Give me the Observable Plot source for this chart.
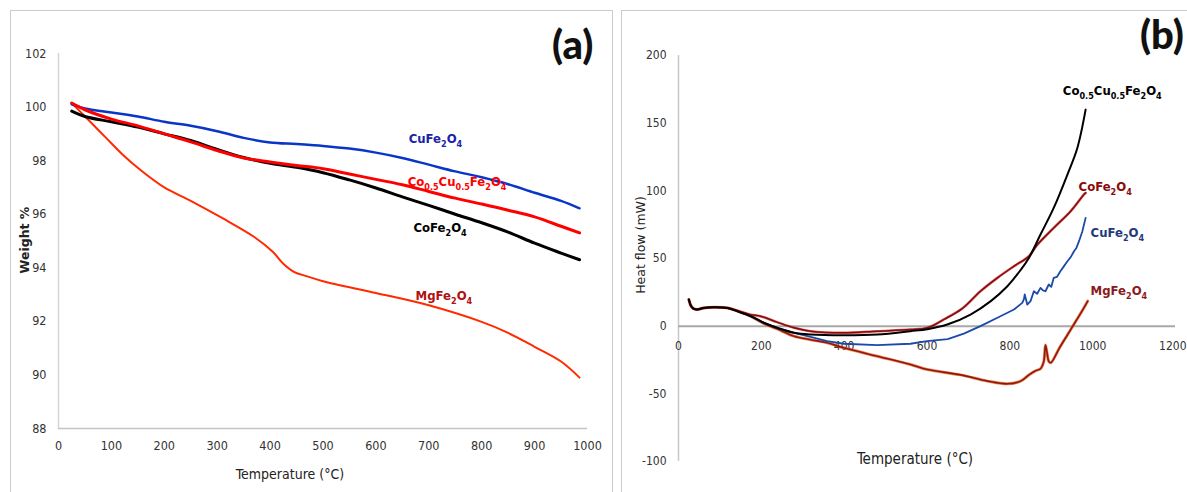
<!DOCTYPE html>
<html>
<head>
<meta charset="utf-8">
<script src="https://cdn.jsdelivr.net/npm/d3@7"></script>
<script src="https://cdn.jsdelivr.net/npm/@observablehq/plot@0.6"></script>
<style>
html, body { margin: 0; padding: 0; background: #fff; overflow: hidden; }
#root { position: relative; width: 1187px; height: 492px; overflow: hidden; background: #fff; }
.panel { position: absolute; border: 1.5px solid #cbcbcb; box-sizing: border-box; }
.chart { position: absolute; top: 0; }
.title { position: absolute; white-space: nowrap; color: #222; }
.tag { position: absolute; font-family: Lato, "Open Sans", sans-serif; font-weight: 900; font-size: 40px; color: #111; line-height: 1; }
.xt { font-family: "Liberation Sans Narrow", "DejaVu Sans Condensed", sans-serif; font-size: 14px; transform: translate(-50%, -50%); }
.yt { font-family: "DejaVu Sans", Verdana, sans-serif; font-size: 12.5px; transform: translate(-50%, -50%) rotate(-90deg); }
</style>
</head>
<body>
<div id="root">
  <div class="panel" style="left:10px; top:10px; width:603px; height:520px;"></div>
  <div class="panel" style="left:621px; top:10px; width:600px; height:520px;"></div>
  <div id="chartA" class="chart" style="left:0px;"></div>
  <div id="chartB" class="chart" style="left:612px;"></div>
  <div class="tag" style="left:552px; top:24px;">(a)</div>
  <div class="tag" style="left:1140px; top:14px;">(b)</div>
  <div class="title xt" style="left:290px; top:474px;">Temperature (°C)</div>
  <div class="title yt" style="left:24px; top:240px; font-weight:bold;">Weight %</div>
  <div class="title xt" style="left:915px; top:459px; font-size:15px;">Temperature (°C)</div>
  <div class="title yt" style="left:640px; top:245px;">Heat flow (mW)</div>
</div>
<script>
// ---------------- Panel (a): TGA, weight % vs temperature ----------------
const tempA = [25, 50, 100, 150, 200, 250, 300, 350, 400, 450, 500, 550, 600, 650, 700, 750, 800, 850, 900, 950, 985];
const weightCuFe2O4 = [100.1, 99.95, 99.8, 99.65, 99.45, 99.3, 99.1, 98.85, 98.68, 98.62, 98.55, 98.45, 98.3, 98.1, 97.85, 97.6, 97.38, 97.12, 96.8, 96.5, 96.22];
const weightCoCuFe2O4 = [100.15, 99.9, 99.55, 99.3, 99.0, 98.7, 98.38, 98.1, 97.95, 97.82, 97.7, 97.5, 97.3, 97.1, 96.85, 96.6, 96.38, 96.15, 95.9, 95.55, 95.3];
const weightCoFe2O4 = [99.85, 99.65, 99.45, 99.25, 99.0, 98.75, 98.42, 98.12, 97.9, 97.75, 97.55, 97.28, 96.98, 96.65, 96.33, 96.0, 95.68, 95.33, 94.92, 94.55, 94.3];
const tempMgA = [25, 35, 60, 90, 120, 155, 200, 250, 310, 370, 405, 425, 445, 470, 500, 600, 700, 800, 850, 900, 950, 985];
const weightMgFe2O4 = [100.15, 99.95, 99.45, 98.85, 98.25, 97.65, 97.0, 96.5, 95.85, 95.15, 94.6, 94.15, 93.85, 93.68, 93.5, 93.06, 92.6, 91.98, 91.57, 91.05, 90.5, 89.9];
const xTicksA = [0, 100, 200, 300, 400, 500, 600, 700, 800, 900, 1000];
const yTicksA = [88, 90, 92, 94, 96, 98, 100, 102];

// ---------------- Panel (b): DSC, heat flow vs temperature ----------------
const tempBCoCu = [25, 30, 36, 45, 61, 85, 118, 142, 174, 206, 238, 279, 319, 399, 480, 560, 601, 649, 705, 754, 794, 826, 846, 874, 906, 939, 963, 983];
const heatCoCuFe2O4 = [19.7, 15, 13, 12.3, 13.5, 14, 13.5, 11.1, 7.4, 2.5, -1.2, -4.9, -6.2, -6.7, -6.2, -3.7, -2.2, 1.2, 8.6, 18.5, 29.5, 41.5, 50.4, 67.7, 87.4, 112, 131.7, 160];
const tempBCo = [25, 30, 36, 45, 61, 85, 118, 142, 174, 198, 238, 279, 319, 399, 480, 560, 601, 641, 685, 729, 770, 810, 846, 866, 906, 947, 979, 983];
const heatCoFe2O4 = [19.7, 15, 13, 12.3, 13.5, 14, 13.5, 11.5, 8.5, 7.4, 3, -1.2, -3.7, -4.9, -3.7, -2.5, -1.2, 5, 13, 25.8, 35.7, 44.3, 51.7, 60, 72.6, 85, 97.3, 98.5];
const tempBCu = [25, 30, 36, 45, 61, 85, 118, 142, 174, 206, 238, 279, 319, 359, 399, 480, 560, 600, 650, 689, 729, 770, 810, 830, 834, 836, 842, 850, 858, 866, 874, 880, 886, 894, 900, 906, 914, 922, 930, 939, 947, 955, 961, 967, 975, 983];
const heatCuFe2O4 = [19.7, 15, 13, 12.3, 13.5, 14, 13.5, 11.1, 7.4, 2.5, -1.2, -5, -8, -11, -13, -14, -13, -11, -9.5, -5.5, 0, 6.2, 12.3, 17.2, 20, 23.4, 16, 18.5, 25.8, 24, 28.3, 26.5, 25.8, 30.8, 29, 35.7, 36.5, 40.6, 44, 48, 51, 55.4, 58, 62.8, 70, 80];
const tempBMg = [25, 30, 36, 45, 61, 85, 118, 142, 174, 206, 238, 279, 319, 359, 399, 480, 560, 601, 681, 746, 794, 826, 846, 862, 874, 882, 886, 890, 894, 899, 920, 940, 960, 975, 988];
const heatMgFe2O4 = [19.7, 15, 13, 12.3, 13.5, 14, 13.5, 11.1, 7.4, 2, -2, -7.4, -10, -12.3, -16, -22.2, -28.3, -32, -36, -40.6, -42.6, -40.6, -36, -33, -31.5, -26, -14, -20, -26, -27, -16, -6, 4, 11.5, 18.5];
const xTicksB = [0, 200, 400, 600, 800, 1000, 1200];
const yTicksB = [-100, -50, 0, 50, 100, 150, 200];

const NARROW = "'Liberation Sans Narrow', 'DejaVu Sans Condensed', 'Roboto Condensed', sans-serif";

const pts = (xs, ys) => xs.map((x, i) => ({x, y: ys[i]}));

function label(text, x, y, fill) {
  return Plot.text([text], {
    x: () => x, y: () => y, text: d => d, fill,
    textAnchor: "start", fontWeight: "bold", fontSize: 13, fontFamily: NARROW
  });
}

function subscriptify(svg) {
  svg.querySelectorAll("text").forEach(t => {
    const s = t.textContent;
    if (!/Fe2O4/.test(s)) return;
    while (t.firstChild) t.removeChild(t.firstChild);
    const parts = s.split(/([0-9.]+)/).filter(p => p.length);
    const NS = "http://www.w3.org/2000/svg";
    let sub = false;
    parts.forEach(p => {
      const isSub = /^[0-9.]+$/.test(p);
      const ts = document.createElementNS(NS, "tspan");
      ts.textContent = p;
      if (isSub) ts.setAttribute("font-size", "9");
      if (isSub && !sub) ts.setAttribute("dy", "4");
      else if (!isSub && sub) ts.setAttribute("dy", "-4");
      sub = isSub;
      t.appendChild(ts);
    });
  });
}

const plain = d => String(d).replace("\u2212", "-");

const plotA = Plot.plot({
  width: 612, height: 492,
  marginLeft: 58, marginRight: 25, marginTop: 53, marginBottom: 64,
  style: {background: "transparent", fontFamily: NARROW, fontSize: "12.5px", color: "#333", overflow: "visible"},
  x: {domain: [0, 1000]},
  y: {domain: [88, 102]},
  marks: [
    Plot.ruleX([0], {stroke: "#d6d6d6", strokeWidth: 1.5}),
    Plot.ruleY([88], {stroke: "#c4c4c4", strokeWidth: 1.5}),
    Plot.axisX({ticks: xTicksA, tickFormat: plain, tickSize: 0, tickPadding: 13, label: null}),
    Plot.axisY({ticks: yTicksA, tickFormat: plain, tickSize: 0, tickPadding: 12, label: null}),
    Plot.line(pts(tempMgA, weightMgFe2O4), {x: "x", y: "y", stroke: "#ff2a00", strokeWidth: 2, curve: "catmull-rom"}),
    Plot.line(pts(tempA, weightCuFe2O4), {x: "x", y: "y", stroke: "#0a36c8", strokeWidth: 2.5, curve: "catmull-rom"}),
    Plot.line(pts(tempA, weightCoFe2O4), {x: "x", y: "y", stroke: "#000000", strokeWidth: 3, curve: "catmull-rom"}),
    Plot.line(pts(tempA, weightCoCuFe2O4), {x: "x", y: "y", stroke: "#ff0000", strokeWidth: 3, curve: "catmull-rom"}),
    label("CuFe2O4", 662, 98.8, "#1c22a8"),
    label("Co0.5Cu0.5Fe2O4", 660, 97.2, "#ff0000"),
    label("CoFe2O4", 671, 95.5, "#000000"),
    label("MgFe2O4", 675, 92.95, "#b01010")
  ]
});
subscriptify(plotA);
document.getElementById("chartA").appendChild(plotA);

const plotB = Plot.plot({
  width: 575, height: 492,
  marginLeft: 66, marginRight: 12, marginTop: 55, marginBottom: 31,
  style: {background: "transparent", fontFamily: NARROW, fontSize: "12px", color: "#333", overflow: "visible"},
  x: {domain: [0, 1200], axis: null},
  y: {domain: [-100, 200]},
  marks: [
    Plot.ruleX([0], {stroke: "#c8c8c8", strokeWidth: 1.5}),
    Plot.ruleY([0], {stroke: "#a8a8a8", strokeWidth: 2}),
    Plot.axisY({ticks: yTicksB, tickFormat: plain, tickSize: 0, tickPadding: 12, label: null}),
    Plot.text(xTicksB.slice(0, -1), {x: d => d, y: () => 0, dy: 20, text: d => String(d), fill: "#333", fontSize: 12}),
    Plot.text(xTicksB.slice(-1), {x: d => d, y: () => 0, dy: 20, text: d => String(d), fill: "#333", fontSize: 12, textAnchor: "end", dx: 11}),
    Plot.line(pts(tempBMg, heatMgFe2O4), {x: "x", y: "y", stroke: "#e8501a", strokeWidth: 3, curve: "catmull-rom", strokeOpacity: 0.7}),
    Plot.line(pts(tempBMg, heatMgFe2O4), {x: "x", y: "y", stroke: "#8e1a08", strokeWidth: 1.6, curve: "catmull-rom"}),
    Plot.line(pts(tempBCu, heatCuFe2O4), {x: "x", y: "y", stroke: "#1b4aa8", strokeWidth: 1.8, curve: "linear"}),
    Plot.line(pts(tempBCo, heatCoFe2O4), {x: "x", y: "y", stroke: "#e02020", strokeWidth: 2.6, curve: "catmull-rom", strokeOpacity: 0.7}),
    Plot.line(pts(tempBCo, heatCoFe2O4), {x: "x", y: "y", stroke: "#7a1010", strokeWidth: 1.5, curve: "catmull-rom"}),
    Plot.line(pts(tempBCoCu, heatCoCuFe2O4), {x: "x", y: "y", stroke: "#000000", strokeWidth: 2, curve: "catmull-rom"}),
    label("Co0.5Cu0.5Fe2O4", 928, 173.6, "#000000"),
    label("CoFe2O4", 966, 102.7, "#8b0a0a"),
    label("CuFe2O4", 995, 68.7, "#1f3a78"),
    label("MgFe2O4", 995, 25.9, "#8b1a1a")
  ]
});
subscriptify(plotB);
document.getElementById("chartB").appendChild(plotB);
</script>
</body>
</html>
